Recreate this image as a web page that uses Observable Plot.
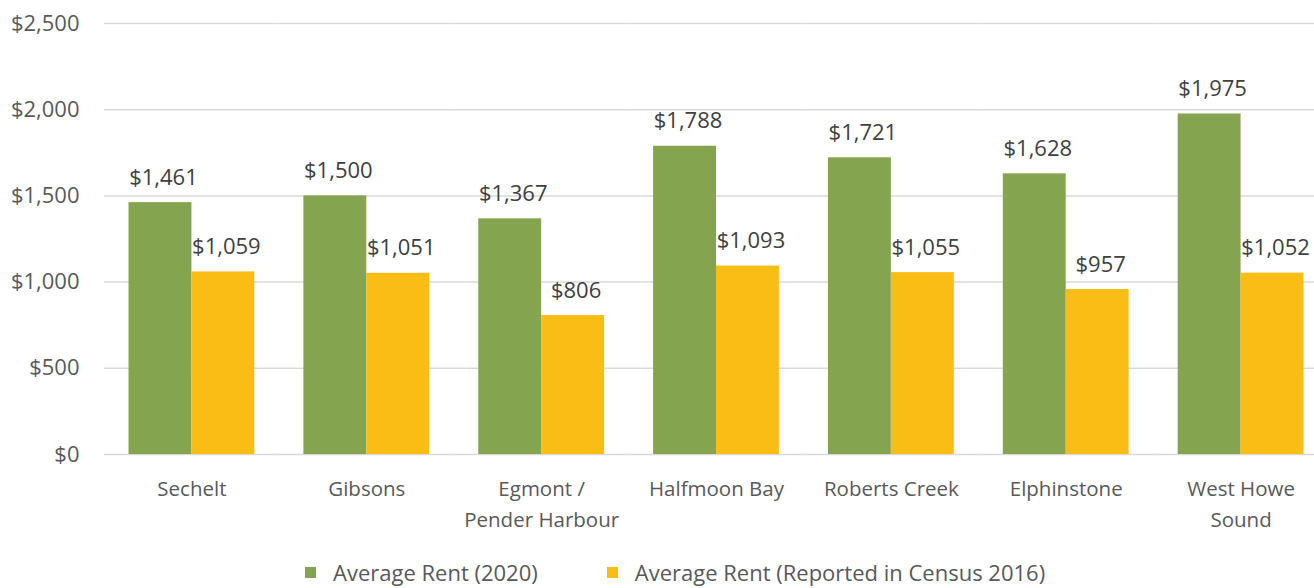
<!DOCTYPE html>
<html>
<head>
<meta charset="utf-8">
<script src="https://cdn.jsdelivr.net/npm/d3@7"></script>
<script src="https://cdn.jsdelivr.net/npm/@observablehq/plot@0.6"></script>
<style>
  html, body { margin: 0; padding: 0; background: #fff; overflow: hidden; width: 1314px; height: 588px; }
  #wrap { position: relative; width: 1314px; height: 588px; overflow: hidden; }
  #chart svg { display: block; max-width: none !important; }
  #legend { position: absolute; left: 305px; top: 558px; display: flex; align-items: center;
    font-family: "Open Sans", sans-serif; font-size: 22px; line-height: 28px; color: #595959; white-space: nowrap; }
  .sw { width: 11px; height: 11px; display: inline-block; margin-right: 17px; }
  .item { display: flex; align-items: center; margin-right: 69px; }
</style>
</head>
<body>
<div id="wrap">
  <div id="chart"></div>
  <div id="legend"></div>
</div>
<script>
const categories = ["Sechelt", "Gibsons", "Egmont /\nPender Harbour", "Halfmoon Bay", "Roberts Creek", "Elphinstone", "West Howe\nSound"];
const rent2020 = [1461, 1500, 1367, 1788, 1721, 1628, 1975];
const rent2016 = [1059, 1051, 806, 1093, 1055, 957, 1052];
const seriesNames = ["Average Rent (2020)", "Average Rent (Reported in Census 2016)"];
const seriesColors = ["#84a44f", "#f9bd16"];
const yTicks = [0, 500, 1000, 1500, 2000, 2500];

const data = [];
categories.forEach((c, i) => {
  data.push({cat: c, series: seriesNames[0], value: rent2020[i]});
  data.push({cat: c, series: seriesNames[1], value: rent2016[i]});
});
const fmt = d => "$" + d3.format(",")(d);

const chart = Plot.plot({
  width: 1328,
  height: 545,
  marginLeft: 104,
  marginRight: 0,
  marginTop: 23,
  marginBottom: 91,
  style: {fontFamily: "Open Sans, sans-serif", fontSize: "22px", color: "#595959", background: "white"},
  fx: {domain: categories, padding: 0, round: false, label: null},
  x: {domain: seriesNames, paddingInner: 0, paddingOuter: 0.39, round: false, axis: null},
  y: {domain: [0, 2500], axis: null},
  color: {domain: seriesNames, range: seriesColors},
  marks: [
    Plot.ruleY(yTicks, {stroke: "#d9d9d9", strokeWidth: 1.5}),
    Plot.axisY({ticks: yTicks, tickSize: 0, tickPadding: 25, tickFormat: fmt, fontSize: 22, label: null, fill: "#595959"}),
    Plot.barY(data, {fx: "cat", x: "series", y: "value", fill: "series"}),
    Plot.text(data, {fx: "cat", x: "series", y: "value", text: d => fmt(d.value), dx: 3, dy: -25, fontSize: 22, fill: "#404040"}),
    Plot.axisFx({anchor: "bottom", tickSize: 0, tickPadding: 20, lineHeight: 1.5, fontSize: 20.5, label: null, fill: "#595959"})
  ]
});
chart.style.maxWidth = "none";
document.getElementById("chart").appendChild(chart);

const legend = document.getElementById("legend");
seriesNames.forEach((name, i) => {
  const item = document.createElement("div");
  item.className = "item";
  const sw = document.createElement("span");
  sw.className = "sw";
  sw.style.background = seriesColors[i];
  const label = document.createElement("span");
  label.textContent = name;
  item.appendChild(sw);
  item.appendChild(label);
  legend.appendChild(item);
});
</script>
</body>
</html>
